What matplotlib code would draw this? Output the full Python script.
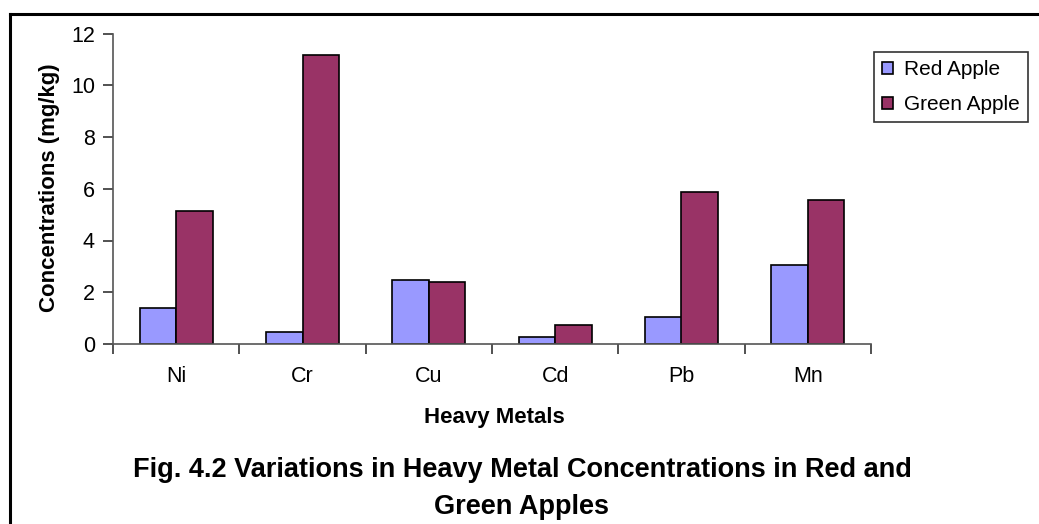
import matplotlib
matplotlib.use("Agg")
import matplotlib.pyplot as plt
import numpy as np
from matplotlib.lines import Line2D

metals = ["Ni", "Cr", "Cu", "Cd", "Pb", "Mn"]
red_apple = [1.4, 0.46, 2.47, 0.26, 1.05, 3.06]
green_apple = [5.15, 11.17, 2.39, 0.73, 5.87, 5.55]
series_names = ["Red Apple", "Green Apple"]
yticks = [0, 2, 4, 6, 8, 10, 12]

plt.rcParams['font.family'] = ['Liberation Sans', 'DejaVu Sans']

W, H = 1039, 524
fig = plt.figure(figsize=(W / 100, H / 100), dpi=100)
ax = fig.add_axes([113 / W, 1 - 344 / H, 758 / W, (344 - 33.5) / H])

x = np.arange(len(metals))
bw = 0.29
ax.bar(x - bw / 2, red_apple, bw, color="#9999FF", edgecolor="black", linewidth=1.2, label=series_names[0])
ax.bar(x + bw / 2, green_apple, bw, color="#993366", edgecolor="black", linewidth=1.2, label=series_names[1])

ax.set_xlim(-0.5, len(metals) - 0.5)
ax.set_ylim(0, 12)
ax.set_yticks(yticks)
ax.set_xticks(np.arange(len(metals) + 1) - 0.5)
ax.set_xticklabels([])
ax.set_xticks(x, minor=True)
ax.set_xticklabels(metals, minor=True)
ax.tick_params(axis="x", which="minor", length=0, pad=16, labelsize=15.5)
ax.tick_params(axis="x", which="major", length=7, width=1.2, color="#333333", direction="out")
ax.tick_params(axis="y", length=7, width=1.2, color="#333333", direction="out", labelsize=15.5, pad=6)

for s in ["top", "right"]:
    ax.spines[s].set_visible(False)
for s in ["left", "bottom"]:
    ax.spines[s].set_color("#555555")
    ax.spines[s].set_linewidth(1.2)

fig.text(50 / W, 1 - 188 / H, "Concentrations (mg/kg)", rotation=90, ha="center", va="center",
         fontsize=16, fontweight="bold")
fig.text(494 / W, 1 - 417 / H, "Heavy Metals", ha="center", va="center", fontsize=16, fontweight="bold")
fig.text(522 / W, 1 - 470 / H, "Fig. 4.2 Variations in Heavy Metal Concentrations in Red and",
         ha="center", va="center", fontsize=19.5, fontweight="bold")
fig.text(522 / W, 1 - 507 / H, "Green Apples", ha="center", va="center", fontsize=19.5, fontweight="bold")

leg = ax.legend(loc="upper left", bbox_to_anchor=(874 / W, 1 - 52 / H), bbox_transform=fig.transFigure,
                frameon=True, fancybox=False, fontsize=15, handlelength=0.5, handleheight=0.5,
                handletextpad=0.55, borderpad=0.4, labelspacing=0.75, borderaxespad=0)
leg.get_frame().set_edgecolor("black")
leg.get_frame().set_linewidth(1.2)

# outer frame (top and left edges)
fig.add_artist(Line2D([9.5 / W, 1], [1 - 14 / H, 1 - 14 / H], color="black", linewidth=2.2, transform=fig.transFigure))
fig.add_artist(Line2D([9.5 / W, 9.5 / W], [0, 1 - 14 / H], color="black", linewidth=2.2, transform=fig.transFigure))

fig.savefig("out.png", dpi=100)
